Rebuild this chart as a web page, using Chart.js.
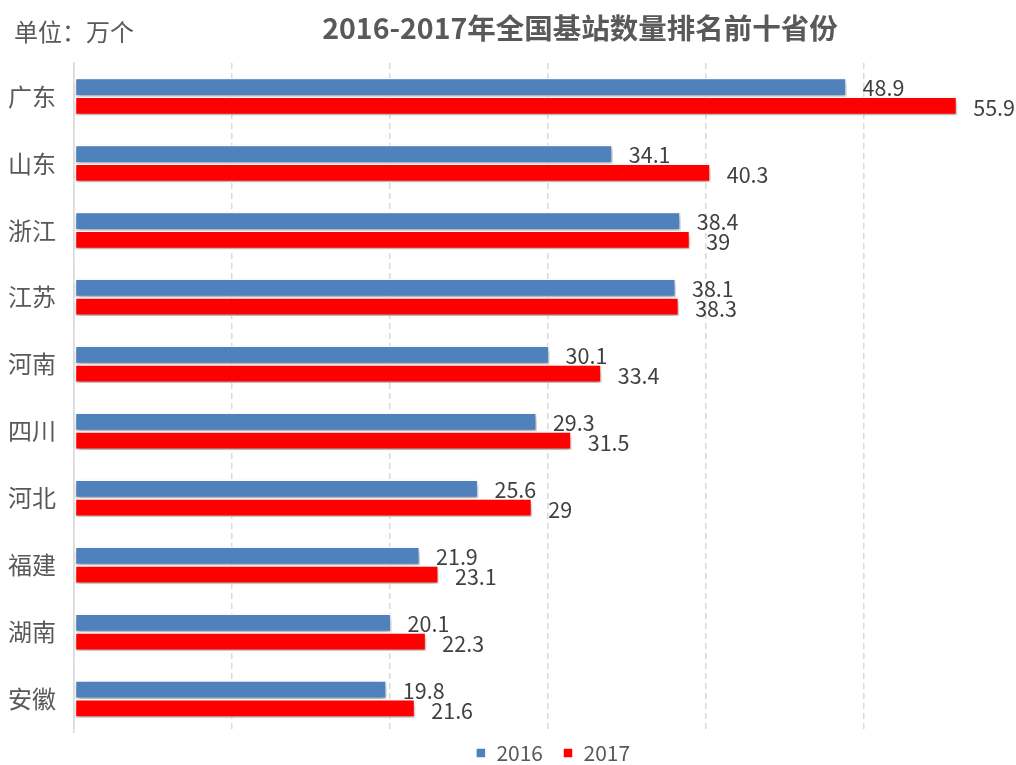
<!DOCTYPE html>
<html>
<head>
<meta charset="utf-8">
<script src="https://cdn.jsdelivr.net/npm/chart.js@4/dist/chart.umd.min.js"></script>
<style>
html,body{margin:0;padding:0;background:#fff;overflow:hidden;}
#wrap{position:relative;width:1024px;height:765px;}
</style>
</head>
<body>
<div id="wrap"><canvas id="c" width="1024" height="765"></canvas></div>
<script>
const categories = ['广东','山东','浙江','江苏','河南','四川','河北','福建','湖南','安徽'];
const values2016 = [48.9,34.1,38.4,38.1,30.1,29.3,25.6,21.9,20.1,19.8];
const values2017 = [55.9,40.3,39,38.3,33.4,31.5,29,23.1,22.3,21.6];
const seriesNames = ['2016','2017'];
const titleText = '2016-2017年全国基站数量排名前十省份';
const unitText = '单位：万个';

const CJK = '"Noto Sans CJK SC", "Noto Sans", sans-serif';

const shadowPlugin = {
  id: 'barShadow',
  beforeDatasetDraw(chart, args) {
    const ctx = chart.ctx;
    ctx.save();
    ctx.shadowColor = 'rgba(0,0,0,0.35)';
    ctx.shadowBlur = 5;
    ctx.shadowOffsetX = 1;
    ctx.shadowOffsetY = 3;
  },
  afterDatasetDraw(chart) {
    chart.ctx.restore();
  }
};

const labelPlugin = {
  id: 'valueLabels',
  afterDatasetsDraw(chart) {
    const ctx = chart.ctx;
    ctx.save();
    ctx.font = '21.5px ' + CJK;
    ctx.fillStyle = '#404040';
    ctx.textAlign = 'left';
    ctx.textBaseline = 'middle';
    chart.data.datasets.forEach((ds, di) => {
      const meta = chart.getDatasetMeta(di);
      meta.data.forEach((bar, i) => {
        ctx.fillText(String(ds.data[i]), bar.x + 16, bar.y + (di === 0 ? 1 : 2));
      });
    });
    ctx.restore();
  }
};

const textPlugin = {
  id: 'headerText',
  afterLayout(chart) {
    const pad = chart.options.plugins.legend.labels.padding;
    const target = 753 - 10.5 - pad; // legend top so text centre sits at y=753
    const dy = target - chart.legend.top;
    chart.legend.top += dy;
    chart.legend.bottom += dy;
    chart.legend.left += 5;
    chart.legend.right += 5;
  },
  afterDraw(chart) {
    const ctx = chart.ctx;
    ctx.save();
    ctx.textBaseline = 'middle';
    ctx.fillStyle = '#595959';
    ctx.font = 'bold 28.5px ' + CJK;
    ctx.textAlign = 'center';
    ctx.fillText(titleText, 580, 28);
    ctx.font = '24px ' + CJK;
    ctx.textAlign = 'left';
    ctx.fillText(unitText, 14, 32);
    ctx.restore();
  }
};

new Chart(document.getElementById('c'), {
  type: 'bar',
  data: {
    labels: categories,
    datasets: [
      { label: seriesNames[0], data: values2016, backgroundColor: '#4F81BD', borderColor: '#ffffff', borderWidth: 1.5, borderSkipped: false },
      { label: seriesNames[1], data: values2017, backgroundColor: '#FF0000', borderColor: '#ffffff', borderWidth: 1.5, borderSkipped: false }
    ]
  },
  options: {
    indexAxis: 'y',
    responsive: false,
    animation: false,
    devicePixelRatio: 1,
    categoryPercentage: 0.56,
    barPercentage: 1.0,
    layout: { padding: { left: 8, right: 2, top: 63, bottom: -26 } },
    scales: {
      x: {
        min: 0, max: 60,
        ticks: { display: false, stepSize: 10 },
        grid: { color: '#d9d9d9', lineWidth: 1.5, drawTicks: false },
        border: { display: false, dash: [6, 4] }
      },
      y: {
        afterFit(s) { s.width = 66; },
        ticks: { color: '#595959', font: { size: 24, family: CJK }, padding: 18 },
        grid: { display: false, drawTicks: false },
        border: { display: true, color: '#d9d9d9', width: 1.5 }
      }
    },
    plugins: {
      legend: {
        position: 'bottom',
        fullSize: false,
        labels: { boxWidth: 10, boxHeight: 10, color: '#595959', font: { size: 21, family: CJK }, padding: 20 }
      },
      title: { display: false },
      tooltip: { enabled: false }
    }
  },
  plugins: [shadowPlugin, labelPlugin, textPlugin]
});
</script>
</body>
</html>
